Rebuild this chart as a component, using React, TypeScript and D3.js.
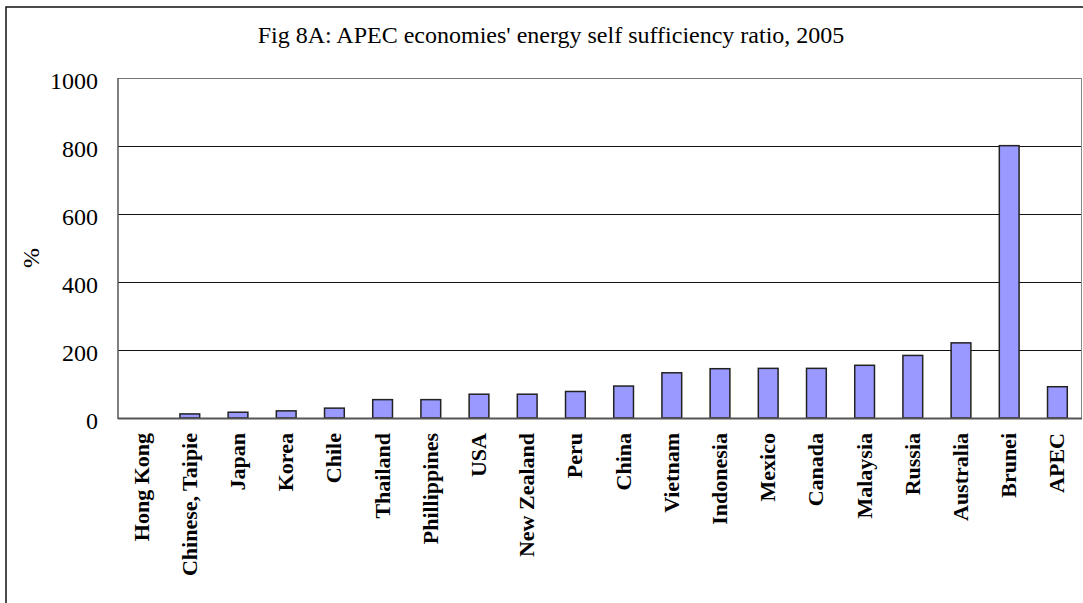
import React from "react";
import * as d3 from "d3";

const categories = [
  "Hong Kong", "Chinese, Taipie", "Japan", "Korea", "Chile", "Thailand",
  "Phillippines", "USA", "New Zealand", "Peru", "China", "Vietnam",
  "Indonesia", "Mexico", "Canada", "Malaysia", "Russia", "Australia",
  "Brunei", "APEC",
];
const ratioValues = [
  0, 12, 17, 21, 29, 54, 54, 70, 70, 78, 94, 133, 145, 146, 146, 155, 184,
  221, 801, 92,
];
const yTicks = [0, 200, 400, 600, 800, 1000];
const title = "Fig 8A: APEC economies' energy self sufficiency ratio, 2005";
const yLabel = "%";

const W = 1083;
const H = 603;
const plot = { left: 118, right: 1081, top: 78, bottom: 418 };

export default function App() {
  const x = d3
    .scaleBand<string>()
    .domain(categories)
    .range([plot.left - 0.5, plot.right + 0.5])
    .paddingInner(0.59)
    .paddingOuter(0.295);
  const y = d3.scaleLinear().domain([0, 1000]).range([plot.bottom, plot.top]);
  const serif = "'Liberation Serif', 'Times New Roman', serif";

  return (
    <svg
      width={W}
      height={H}
      style={{ position: "absolute", left: 0, top: 0, background: "#fff" }}
      fontFamily={serif}
    >
      <rect x={0} y={0} width={W} height={H} fill="#fff" />
      <rect x={6} y={7} width={1090} height={610} fill="none" stroke="#111" strokeWidth={1.5} />
      <text x={551} y={43} textAnchor="middle" fontSize={24} fill="#000">
        {title}
      </text>
      {/* gridlines */}
      {yTicks.filter((t) => t > 0).map((t) => (
        <line
          key={"g" + t}
          x1={plot.left}
          x2={plot.right}
          y1={Math.round(y(t)) + 0.5}
          y2={Math.round(y(t)) + 0.5}
          stroke={t === 1000 ? "#777" : "#111"}
          strokeWidth={1}
        />
      ))}
      {/* right border of plot */}
      <line x1={plot.right + 0.5} x2={plot.right + 0.5} y1={plot.top} y2={plot.bottom} stroke="#888" strokeWidth={1} />
      {/* left axis */}
      <line x1={plot.left} x2={plot.left} y1={plot.top} y2={plot.bottom + 1} stroke="#555" strokeWidth={1.5} />
      {/* tick labels */}
      {yTicks.map((t) => (
        <text key={"t" + t} x={98} y={y(t) + 11} textAnchor="end" fontSize={24} fill="#000">
          {t}
        </text>
      ))}
      <text
        transform={`translate(${39},${258}) rotate(-90)`}
        textAnchor="middle"
        fontSize={24}
        fill="#000"
      >
        {yLabel}
      </text>
      {/* bars */}
      {categories.map((c, i) => {
        const v = ratioValues[i];
        const bx = x(c) as number;
        const h = plot.bottom - y(v);
        if (h <= 0) return null;
        return (
          <rect
            key={c}
            x={bx}
            y={y(v)}
            width={x.bandwidth()}
            height={h}
            fill="#9999FF"
            stroke="#222"
            strokeWidth={1.5}
          />
        );
      })}
      {/* bottom axis */}
      <line x1={plot.left} x2={plot.right + 1} y1={plot.bottom + 0.5} y2={plot.bottom + 0.5} stroke="#555" strokeWidth={2} />
      {/* x labels */}
      {categories.map((c) => {
        const cx = (x(c) as number) + x.bandwidth() / 2;
        return (
          <text
            key={"l" + c}
            transform={`translate(${cx + 7},${433}) rotate(-90)`}
            textAnchor="end"
            fontSize={22}
            fontWeight="bold"
            fill="#000"
          >
            {c}
          </text>
        );
      })}
    </svg>
  );
}
